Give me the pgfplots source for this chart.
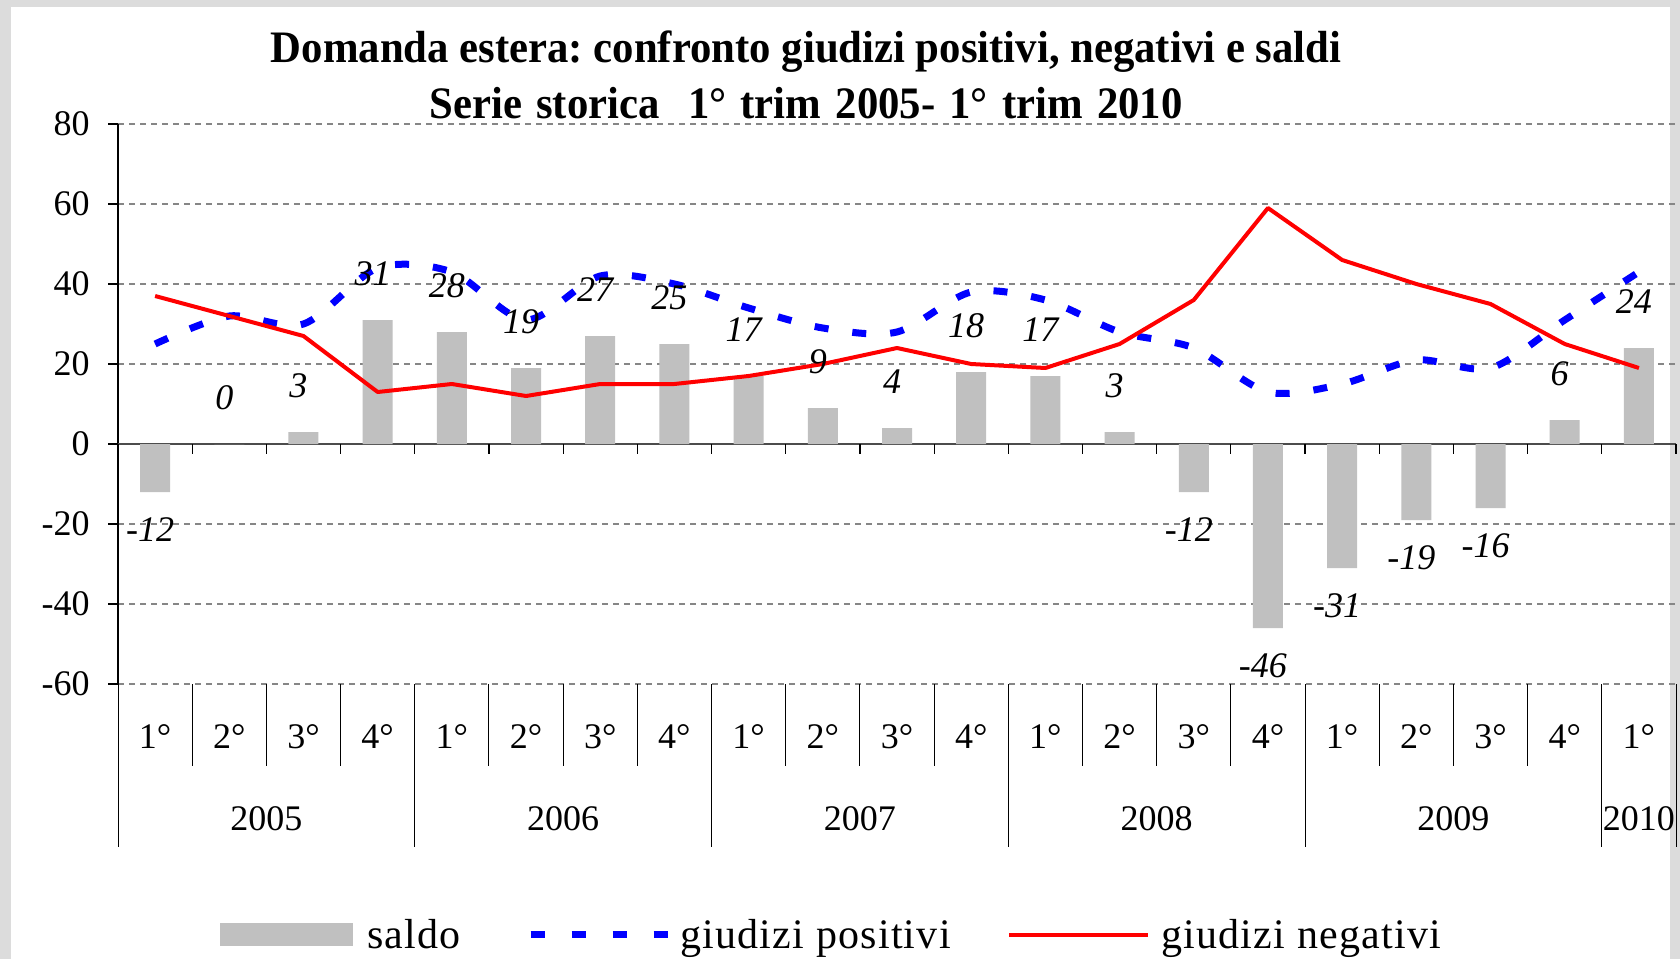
\documentclass[border=0pt]{standalone}
\usepackage{fontspec}
\setmainfont{Liberation Serif}
\newfontfamily\titlefont[FakeStretch=0.95]{Liberation Serif}
\newfontfamily\legendfont[LetterSpace=3]{Liberation Serif}
\usepackage{pgfplots}
\pgfplotsset{compat=1.18}
\usepackage{pgfplotstable}

\definecolor{bargray}{HTML}{C0C0C0}
\definecolor{gridgray}{HTML}{868686}
\definecolor{framegray}{HTML}{DCDCDC}

\pgfplotstableread{
i saldo pos neg lab
0 -12 25 37 -12
1 0 32 32 0
2 3 30 27 3
3 31 44 13 31
4 28 43 15 28
5 19 31 12 19
6 27 42 15 27
7 25 40 15 25
8 17 34 17 17
9 9 29 20 9
10 4 28 24 4
11 18 38 20 18
12 17 36 19 17
13 3 28 25 3
14 -12 24 36 -12
15 -46 13 59 -46
16 -31 15 46 -31
17 -19 21 40 -19
18 -16 19 35 -16
19 6 31 25 6
20 24 43 19 24
}\data

\begin{document}
\frenchspacing
\begin{tikzpicture}[x=1pt,y=1pt]
\path[use as bounding box] (0,0) rectangle (840,479.5);
\fill[framegray] (0,0) rectangle (840,479.5);
\fill[white] (5.5,0) rectangle (835,476);
\begin{axis}[
  at={(59pt,137.5pt)}, anchor=south west,
  width=779pt, height=280pt, scale only axis,
  xmin=-0.5, xmax=20.5, ymin=-60, ymax=80,
  clip=false,
  axis lines*=left,
  axis line style={-},
  x axis line style={draw=none},
  y axis line style={-, black, line width=0.6pt},
  xtick={0,...,20},
  xticklabels={1°,2°,3°,4°,1°,2°,3°,4°,1°,2°,3°,4°,1°,2°,3°,4°,1°,2°,3°,4°,1°},
  xtick style={draw=none},
  xticklabel style={anchor=center, yshift=-21.2pt, inner sep=0pt, font=\fontsize{18}{21}\selectfont},
  extra x ticks={1.5,5.5,9.5,13.5,17.5,20},
  extra x tick labels={2005,2006,2007,2008,2009,2010},
  extra x tick style={xtick style={draw=none}, xticklabel style={yshift=-41pt}},
  ytick={-60,-40,-20,0,20,40,60,80},
  yticklabels={-60,-40,-20,0,20,40,60,80},
  ytick style={black, line width=0.6pt},
  tick align=outside, major tick length=5pt,
  yticklabel style={anchor=east, inner sep=0pt, xshift=-9pt, font=\fontsize{18}{21}\selectfont},
  ymajorgrids,
  grid style={gridgray, line width=0.6pt, dash pattern=on 3pt off 2.5pt},
  every axis title/.style={at={(0.4416,1)}, anchor=south, yshift=2.5pt, inner sep=0pt, align=center, font=\titlefont\bfseries\fontsize{22.5}{28}\selectfont},
  title={Domanda estera: confronto giudizi positivi, negativi e saldi\\{\spaceskip=7.1pt Serie storica\ \ 1° trim 2005- 1° trim 2010}},
  legend style={at={(0.06547,-0.4482)}, anchor=west, draw=none, fill=none,
    inner sep=0pt, outer sep=0pt, /tikz/column sep=0pt,
    nodes={inner sep=0pt, font=\legendfont\fontsize{21}{24}\selectfont}},
  legend columns=3,
]
\draw[gray!60!black, line width=1pt] (axis cs:-0.5,0) -- (axis cs:20.5,0);
\pgfplotsinvokeforeach{-0.5,0.5,1.5,2.5,3.5,4.5,5.5,6.5,7.5,8.5,9.5,10.5,11.5,12.5,13.5,14.5,15.5,16.5,17.5,18.5,19.5,20.5}{
  \draw[black, line width=0.6pt] (axis cs:#1,0) -- (axis cs:#1,-2.5);
  \draw[black, line width=0.5pt] (axis cs:#1,-60) -- (axis cs:#1,-80.5);
}
\pgfplotsinvokeforeach{-0.5,3.5,7.5,11.5,15.5,19.5,20.5}{
  \draw[black, line width=0.5pt] (axis cs:#1,-60) -- (axis cs:#1,-100.75);
}

\addplot[ybar, bar width=15pt, fill=bargray, draw=none,
  nodes near coords, point meta=explicit symbolic,
  visualization depends on=rawy \as \rawy,
  nodes near coords style={anchor=center, xshift=-2.5pt, yshift={ifthenelse(\rawy<0,-19,23)}, font=\itshape\fontsize{18}{21}\selectfont, text=black},
  legend image code/.code={\fill[bargray] (0pt,-5.75pt) rectangle (66.5pt,5.75pt);}
] table[x=i, y=saldo, meta=lab] {\data};
\addlegendentry{\makebox[87pt][l]{\hspace{7pt}saldo}}

\addplot[blue, line width=3.5pt, dash pattern=on 7pt off 12pt, smooth, mark=none,
  legend image code/.code={\draw[blue, line width=3.5pt, dash pattern=on 7pt off 13.5pt] (0pt,0pt) -- (68.5pt,0pt);}
] table[x=i, y=pos] {\data};
\addlegendentry{\makebox[168pt][l]{\hspace{4.5pt}giudizi positivi}}

\addplot[red, line width=2pt, mark=none, line join=round,
  legend image code/.code={\draw[red, line width=2pt] (0pt,0pt) -- (69.5pt,0pt);}
] table[x=i, y=neg] {\data};
\addlegendentry{\hspace{5.6pt}giudizi negativi}
\end{axis}
\end{tikzpicture}
\end{document}
